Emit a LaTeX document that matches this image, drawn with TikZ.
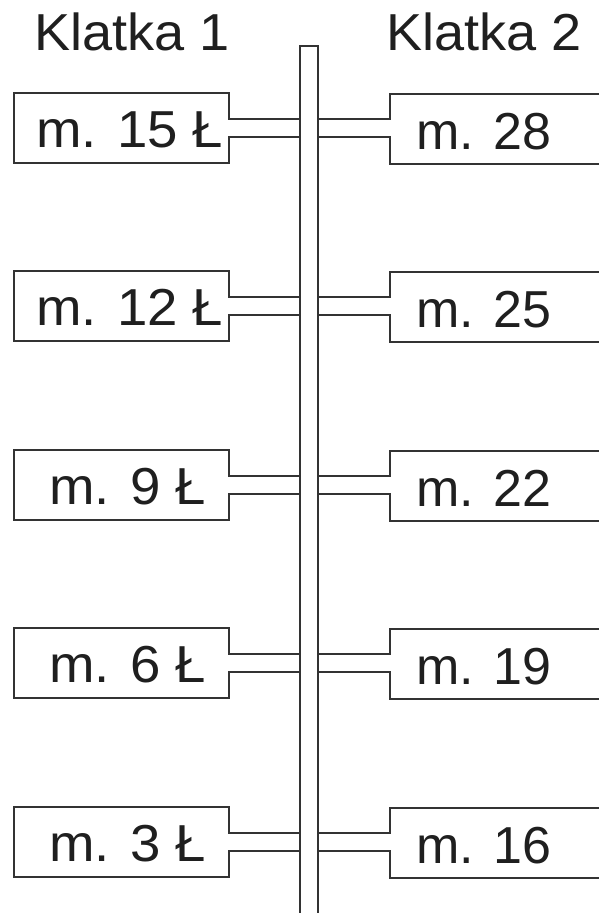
\documentclass[tikz,border=0pt]{standalone}
\usepackage{fontspec}
\setmainfont{Liberation Sans}
\usetikzlibrary{calc}
\begin{document}
\begin{tikzpicture}[x=1pt,y=-1pt,
  wire/.style={draw=black!80,line width=1.6pt,line join=miter},
  lbl/.style={inner sep=0pt,anchor=base west,text=black!88,font=\fontsize{52}{60}\selectfont},
  llbl/.style={lbl,xscale=1.05},
  head/.style={inner sep=0pt,anchor=base west,text=black!88,font=\fontsize{52}{60}\selectfont,xscale=1.04}]
\useasboundingbox (0,0) rectangle (598,913);
\fill[white] (0,0) rectangle (598,913);
% headings
\node[head] (h1) at (34,50) {Klatka 1};
\node[head] (h2) at (386,50) {Klatka 2};
% riser pipe
\coordinate (pt) at (309,46);
\draw[wire] (300,930) -- (300,46) -- (318,46) -- (318,930);
% rows
\foreach \c/\l/\lx/\r [count=\i] in {128/15/36/28, 306/12/36/25, 485/9/49/22, 663/6/49/19, 842/3/49/16}{
  \coordinate (a\i) at (300,\c);
  \coordinate (b\i) at (318,\c);
  \draw[wire] ($(a\i)+(0,-9)$) -- (229,\c-9) -- (229,\c-35) -- (14,\c-35) -- (14,\c+35) -- (229,\c+35) -- (229,\c+9) -- ($(a\i)+(0,9)$);
  \draw[wire] ($(b\i)+(0,-9)$) -- (390,\c-9) -- (390,\c-34) -- (620,\c-34);
  \draw[wire] (620,\c+36) -- (390,\c+36) -- (390,\c+9) -- ($(b\i)+(0,9)$);
  \node[llbl] (L\i) at (\lx,\c+19) {m. \l\ Ł};
  \node[lbl] (R\i) at (416,\c+21) {m. \r};
}
\end{tikzpicture}
\end{document}
